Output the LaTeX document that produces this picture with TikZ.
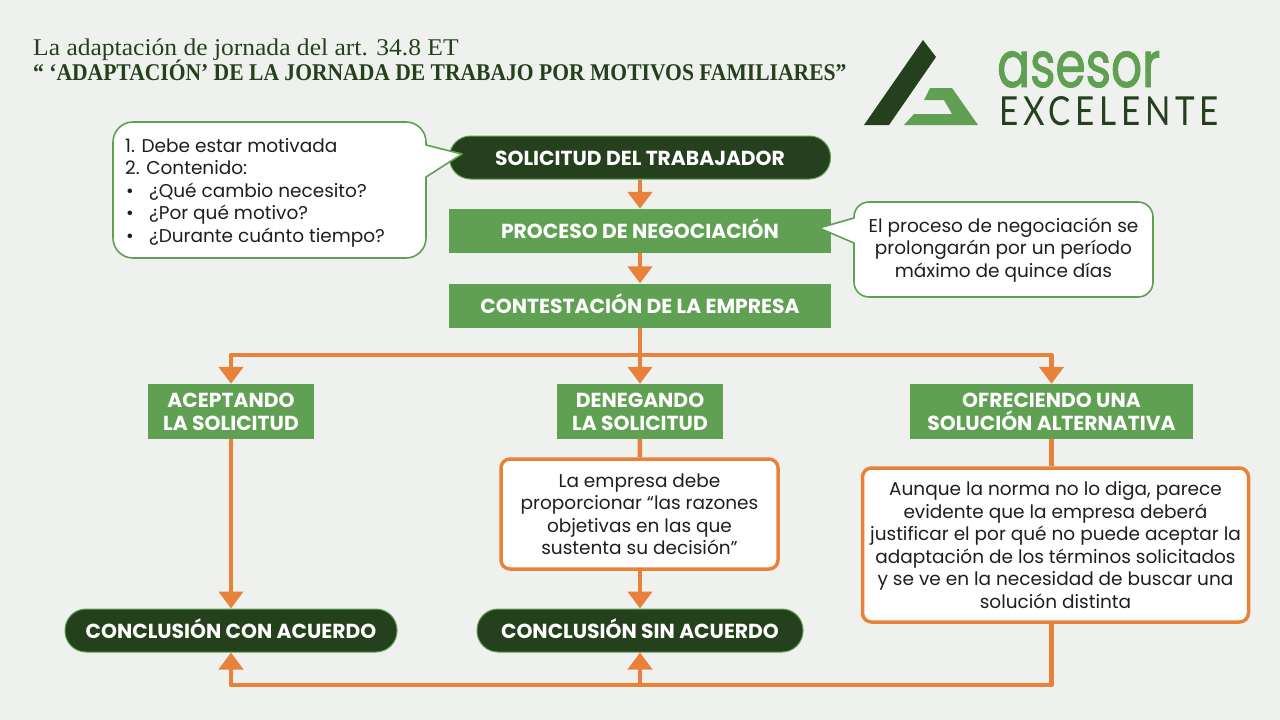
\documentclass[tikz,border=0pt]{standalone}
\usepackage{fontspec}
\setmainfont{Poppins}
\newfontfamily\titlefont[FakeStretch=1.064]{Liberation Serif}
\newfontfamily\subtitlefont[FakeStretch=0.899]{Liberation Serif}
\newfontfamily\logofont[FakeStretch=0.76,FakeBold=1.5]{Poppins}
\newfontfamily\logotwo[LetterSpace=12,FakeStretch=0.83]{Lato}
\usetikzlibrary{arrows.meta}
\definecolor{paper}{HTML}{EFF1EE}
\definecolor{darkgreen}{HTML}{25401C}
\definecolor{midgreen}{HTML}{5FA052}
\definecolor{flow}{HTML}{E8823A}
\definecolor{inktext}{HTML}{1E1E1E}
\tikzset{
    heading/.style = {font=\fontsize{20.3}{22.5}\selectfont\bfseries, text=white, align=center, inner sep=0pt, text height=15, text depth=0},
    greenbox/.style = {heading, fill=midgreen, minimum width=#1, minimum height=44},
    answerbox/.style = {greenbox=#1, minimum height=55, text height=37.5},
    pill/.style = {heading, fill=darkgreen, draw=midgreen, line width=1, rounded corners=21, minimum width=#1, minimum height=43},
    notebox/.style = {fill=white, draw=flow, line width=3.5, rounded corners=9, inner sep=0pt, align=center, minimum width=#1,
        text=inktext, font=\fontsize{18.5}{22.5}\selectfont},
    bubble/.style = {fill=white, draw=midgreen, line width=1.6, line join=round},
    bubbletext/.style = {inner sep=0pt, text=inktext, font=\fontsize{18.5}{22.5}\selectfont},
    flowline/.style = {draw=flow, line width=4.5, line join=round},
    flowarrow/.style = {flowline, -{Triangle[width=24,length=17]}}
}
\begin{document}
\begin{tikzpicture}[x=1pt, y=-1pt]
    \fill[paper] (0,0) rectangle (1280,720);
    \useasboundingbox (0,0) rectangle (1280,720);

    % Title:
    \node[anchor=base west, inner sep=0pt, text=darkgreen, font=\fontsize{24}{26}\selectfont\titlefont] (title) at (33,55) {La adaptación de jornada del art. 34.8 ET};
    \node[anchor=base west, inner sep=0pt, text=darkgreen, font=\fontsize{24}{26}\selectfont\subtitlefont\bfseries] (subtitle) at (33,80) {“ ‘ADAPTACIÓN’ DE LA JORNADA DE TRABAJO POR MOTIVOS FAMILIARES”};

    % Logo:
    \fill[darkgreen] (923,40) -- (936,57) -- (889,125) -- (864,125) -- cycle;
    \fill[midgreen] (930,88) -- (952,88) -- (978,125) -- (904,125) -- (914,114) -- (952,114) -- (944,100) -- (924,100) -- cycle;
    \node[anchor=base west, inner sep=0pt, text=midgreen, font=\fontsize{64}{64}\selectfont\logofont] (asesor) at (997,87) {asesor};
    \node[anchor=base west, inner sep=0pt, text=darkgreen, font=\fontsize{40}{40}\selectfont\logotwo] (excelente) at (999,125) {EXCELENTE};

    % Top of the flow:
    \node[pill=381] (solicitud) at (640,157.5) {SOLICITUD DEL TRABAJADOR};
    \node[greenbox=382] (proceso) at (640,231) {PROCESO DE NEGOCIACIÓN};
    \node[greenbox=382] (contestacion) at (640,305.5) {CONTESTACIÓN DE LA EMPRESA};

    % The three answers:
    \node[answerbox=166] (aceptando) at (231,411.5) {ACEPTANDO\\LA SOLICITUD};
    \node[answerbox=166] (denegando) at (640,411.5) {DENEGANDO\\LA SOLICITUD};
    \node[answerbox=283] (ofreciendo) at (1051.5,411.5) {OFRECIENDO UNA\\SOLUCIÓN ALTERNATIVA};

    % Notes:
    \node[notebox=277, minimum height=110] (razones) at (639.5,514) {La empresa debe\\proporcionar “las razones\\objetivas en las que\\sustenta su decisión”};
    \node[notebox=386, minimum height=154] (alternativa) at (1055.5,545) {Aunque la norma no lo diga, parece\\evidente que la empresa deberá\\justificar el por qué no puede aceptar la\\adaptación de los términos solicitados\\y se ve en la necesidad de buscar una\\solución distinta};

    % Ends:
    \node[pill=332] (conAcuerdo) at (231,630.5) {CONCLUSIÓN CON ACUERDO};
    \node[pill=326] (sinAcuerdo) at (640,630.5) {CONCLUSIÓN SIN ACUERDO};

    % Bubbles:
    \draw[bubble] (462,154) -- (426,145) [rounded corners=20] -- (426,122) -- (113,122) -- (113,258) -- (426,258) [sharp corners] -- (426,177) -- cycle;
    \node[bubbletext, anchor=north west, align=left] (pasos) at (125,138) {1. Debe estar motivada\\2. Contenido:\\\makebox[24pt][l]{\hspace{1pt}•}¿Qué cambio necesito?\\\makebox[24pt][l]{\hspace{1pt}•}¿Por qué motivo?\\\makebox[24pt][l]{\hspace{1pt}•}¿Durante cuánto tiempo?};
    \draw[bubble] (819,228) -- (854,218) [rounded corners=15] -- (854,202) -- (1153,202) -- (1153,297) -- (854,297) [sharp corners] -- (854,243) -- cycle;
    \node[bubbletext, align=center] (plazo) at (1003.5,250) {El proceso de negociación se\\prolongarán por un período\\máximo de quince días};

    % Connectors:
    \coordinate (busTop) at (640,355);
    \coordinate (busBottom) at (640,685);
    \draw[flowarrow] (solicitud) -- (proceso);
    \draw[flowarrow] (proceso) -- (contestacion);
    \draw[flowline] (contestacion) -- (busTop);
    \draw[flowarrow] (busTop) -| (aceptando);
    \draw[flowarrow] (busTop) -- (denegando);
    \draw[flowarrow] (busTop) -| (ofreciendo);
    \draw[flowarrow] (aceptando) -- (conAcuerdo);
    \draw[flowline] (denegando) -- (razones);
    \draw[flowarrow] (razones.south -| sinAcuerdo.north) -- (sinAcuerdo);
    \draw[flowline] (ofreciendo.south) -- (ofreciendo.south |- alternativa.north);
    \draw[flowarrow] (alternativa.south -| ofreciendo.south) |- (busBottom) -| (conAcuerdo);
    \draw[flowarrow] (busBottom) -- (sinAcuerdo);
\end{tikzpicture}
\end{document}
